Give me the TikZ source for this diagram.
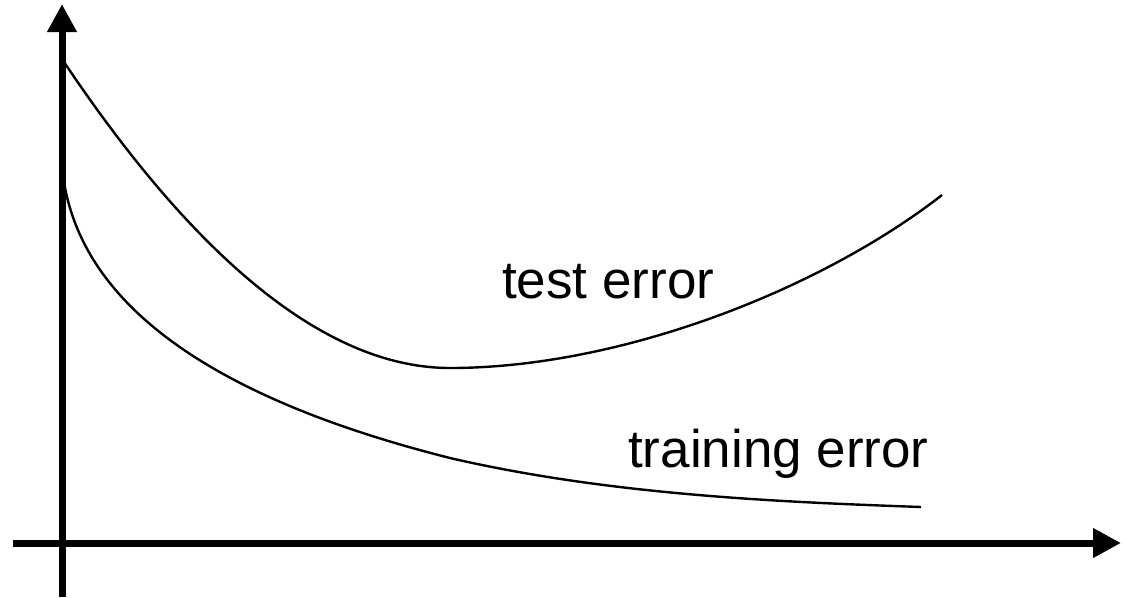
\documentclass[tikz,border=0pt]{standalone}
\usepackage{fontspec}
\setmainfont{Liberation Sans}
\usetikzlibrary{arrows.meta}
\tikzset{
  axis/.style={line width=7pt, -{Triangle[length=28pt,width=28pt]}},
  curve/.style={line width=2.4pt},
  label/.style={anchor=base west, inner sep=0pt, font=\fontsize{53}{60}\selectfont}
}
\begin{document}
\begin{tikzpicture}[x=1pt,y=-1pt]
  \useasboundingbox (0,0) rectangle (1123,597);
  % axes
  \coordinate (xstart) at (13,543);
  \coordinate (xend) at (1121,543);
  \coordinate (ystart) at (62,597);
  \coordinate (yend) at (62,4);
  \draw[axis] (xstart) -- (xend);
  \draw[axis] (ystart) -- (yend);
  % test error: falls to a minimum, then rises again
  \coordinate (t0) at (64,62);
  \coordinate (tmin) at (450,368);
  \coordinate (t1) at (942,195);
  \draw[curve] (t0) .. controls (200,265) and (330,368) .. (tmin)
                    .. controls (620,368) and (820,290) .. (t1);
  % training error: keeps falling
  \coordinate (r0) at (64,182);
  \coordinate (rmid) at (450,458);
  \coordinate (r1) at (921,507);
  \draw[curve] (r0) .. controls (85,310) and (220,400) .. (rmid)
                    .. controls (610,495) and (780,502) .. (r1);
  \node[label] (test) at (502,298) {test error};
  \node[label] (train) at (628,467) {training error};
\end{tikzpicture}
\end{document}
